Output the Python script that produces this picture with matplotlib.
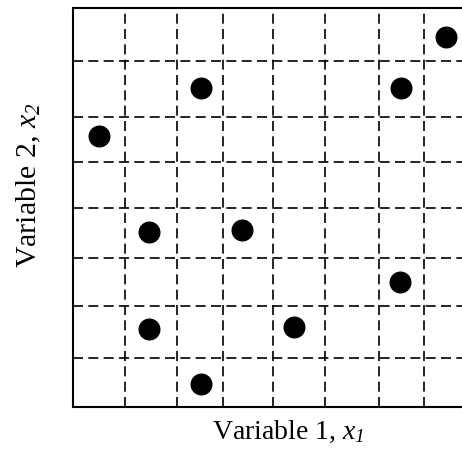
import matplotlib
matplotlib.use("Agg")
import matplotlib.pyplot as plt

# sample points (grid cell units)
var1 = [7.47, 2.56, 6.56, 0.51, 1.52, 3.38, 6.54, 1.52, 4.43, 2.57]
var2 = [7.43, 6.40, 6.40, 5.44, 3.52, 3.55, 2.52, 1.57, 1.62, 0.46]

# interval boundaries
grid_x = [1.03, 2.09, 3.01, 3.99, 5.05, 6.11, 7.03]
grid_y = [0.99, 2.04, 2.99, 3.99, 4.91, 5.82, 6.94]

plt.rcParams['mathtext.fontset'] = 'custom'
plt.rcParams['mathtext.rm'] = 'Liberation Serif'
plt.rcParams['mathtext.it'] = 'Liberation Serif:italic'
# italic digits for the subscripts
plt.rcParams['mathtext.sf'] = 'Liberation Serif:italic'

W, H = 462, 449
fig = plt.figure(figsize=(W / 100, H / 100), dpi=100)
ax = fig.add_axes([73 / W, (H - 407.3) / H, 400 / W, 399 / H])

ax.set_xlim(0, 8)
ax.set_ylim(0, 8)
ax.set_xticks(grid_x)
ax.set_yticks(grid_y)
ax.tick_params(length=0, labelbottom=False, labelleft=False)
ax.grid(True, color='black', lw=1.2, ls=(0, (6, 3.2)))
for s in ax.spines.values():
    s.set_linewidth(1.5)

ax.scatter(var1, var2, s=220, color='black', zorder=3, clip_on=False)

fig.text(212 / W, (H - 438.7) / H, r'Variable 1, $x_{\mathsf{1}}$',
         family='Liberation Serif', fontsize=20, ha='left', va='baseline')
fig.text(36 / W, (H - 268) / H, r'Variable 2, $x_{\mathsf{2}}$',
         family='Liberation Serif', fontsize=21.5, rotation=90,
         rotation_mode='anchor', ha='left', va='baseline')

fig.savefig('out.png', dpi=100)
